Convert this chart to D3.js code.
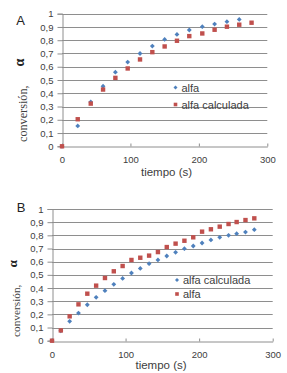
<!DOCTYPE html>
<html>
<head>
<meta charset="utf-8">
<script src="https://cdn.jsdelivr.net/npm/d3@7"></script>
<style>
  html, body { margin: 0; padding: 0; background: #fff; }
  svg { display: block; }
</style>
</head>
<body>
<div id="chart"></div>
<script>
// Panel A data
const timeA = [0, 23, 42, 60, 78, 96, 114, 132, 150, 168, 186, 205, 223, 241, 259, 277];
const alfaA = [0, 0.154, 0.335, 0.453, 0.559, 0.635, 0.700, 0.756, 0.806, 0.844, 0.877, 0.902, 0.922, 0.940, 0.957];
const alfaCalcA = [0, 0.204, 0.322, 0.428, 0.516, 0.587, 0.655, 0.710, 0.753, 0.796, 0.831, 0.851, 0.879, 0.902, 0.917, 0.932];

// Panel B data
const timeB = [0, 12, 24, 36, 48, 60, 72, 84, 96, 108, 120, 132, 144, 156, 168, 180, 192, 204, 216, 228, 240, 251, 263, 275];
const alfaCalcB = [0, 0.075, 0.147, 0.210, 0.273, 0.329, 0.380, 0.428, 0.473, 0.514, 0.549, 0.585, 0.613, 0.643, 0.671, 0.699, 0.719, 0.742, 0.765, 0.785, 0.800, 0.813, 0.825, 0.843];
const alfaB = [0, 0.078, 0.185, 0.276, 0.357, 0.418, 0.476, 0.527, 0.567, 0.613, 0.630, 0.646, 0.673, 0.711, 0.737, 0.759, 0.785, 0.828, 0.846, 0.866, 0.886, 0.901, 0.916, 0.929];

// Axis ticks
const xTicks = [0, 100, 200, 300];
const yTicks = [0, 0.1, 0.2, 0.3, 0.4, 0.5, 0.6, 0.7, 0.8, 0.9, 1];
const fmt = d => String(d).replace('.', ',');

const BLUE = '#4F81BD';
const RED = '#C0504D';
const GRID = '#8e8e8e';
const TEXT = '#404040';

const svg = d3.select('#chart').append('svg')
    .attr('width', 287)
    .attr('height', 373);

svg.append('rect').attr('width', 287).attr('height', 373).attr('fill', '#fff');

// small marker helpers
function diamond(sel, size) {
    return sel.attr('x', -size / 2).attr('y', -size / 2)
        .attr('width', size).attr('height', size);
}

function drawPanel(p) {
    const x = d3.scaleLinear().domain([0, 300]).range([p.left, p.right]);
    const y = d3.scaleLinear().domain([0, 1]).range([p.bottom, p.top]);
    const g = svg.append('g');

    // Gridlines
    g.append('g').selectAll('line')
        .data(yTicks.filter(d => d > 0))
        .join('line')
        .attr('x1', p.left).attr('x2', p.right)
        .attr('y1', d => Math.round(y(d)) + 0.5).attr('y2', d => Math.round(y(d)) + 0.5)
        .attr('stroke', GRID).attr('stroke-width', 1);

    // Y axis
    const yAxis = g.append('g')
        .attr('transform', `translate(${Math.round(p.left) + 0.5},0)`)
        .call(d3.axisLeft(y).tickValues(yTicks).tickFormat(fmt).tickSize(5).tickPadding(4));
    yAxis.select('.domain').attr('stroke', GRID);
    yAxis.selectAll('.tick line').attr('stroke', GRID);
    yAxis.selectAll('text')
        .attr('fill', TEXT)
        .style('font-family', '"Liberation Sans", Arial, sans-serif')
        .style('font-size', '9.5px');

    // X axis (ticks pointing inward)
    const xAxis = g.append('g')
        .attr('transform', `translate(0,${Math.round(p.bottom) + 0.5})`)
        .call(d3.axisBottom(x).tickValues(xTicks).tickSize(-3).tickPadding(10).tickSizeOuter(0));
    xAxis.select('.domain').attr('stroke', GRID);
    xAxis.selectAll('.tick line').attr('stroke', GRID);
    xAxis.selectAll('text')
        .attr('fill', TEXT)
        .style('font-family', '"Liberation Sans", Arial, sans-serif')
        .style('font-size', '9.5px');

    // Series
    p.series.forEach(s => {
        const pts = s.values.map((v, i) => [p.time[i], v]);
        const marks = g.append('g').selectAll('rect')
            .data(pts)
            .join('rect')
            .attr('fill', s.color);
        if (s.shape === 'diamond') {
            diamond(marks, 3.4)
                .attr('transform', d => `translate(${x(d[0])},${y(d[1])}) rotate(45)`);
        } else {
            marks.attr('x', d => x(d[0]) - 2.2)
                .attr('y', d => y(d[1]) - 2.2)
                .attr('width', 4.4).attr('height', 4.4);
        }
    });

    // Legend
    p.series.forEach((s, i) => {
        const ly = p.legendY + i * p.legendGap;
        const m = g.append('rect').attr('fill', s.color);
        if (s.shape === 'diamond') {
            diamond(m, 2.8).attr('transform', `translate(${p.legendX},${ly}) rotate(45)`);
        } else {
            m.attr('x', p.legendX - 1.8).attr('y', ly - 1.8)
                .attr('width', 3.6).attr('height', 3.6);
        }
        g.append('text')
            .attr('x', p.legendX + 6)
            .attr('y', ly + 4)
            .attr('fill', TEXT)
            .style('font-family', '"Liberation Sans", Arial, sans-serif')
            .style('font-size', '11px')
            .text(s.name);
    });

    // X title
    g.append('text')
        .attr('x', p.xTitleX)
        .attr('y', p.xTitleY)
        .attr('text-anchor', 'middle')
        .attr('fill', TEXT)
        .style('font-family', '"Liberation Sans", Arial, sans-serif')
        .style('font-size', '11.5px')
        .text('tiempo (s)');

    // Y title
    const yt = g.append('text')
        .attr('transform', `translate(${p.yTitleX},${p.yTitleY}) rotate(-90)`)
        .attr('fill', TEXT)
        .style('font-family', '"Liberation Serif", "Times New Roman", serif')
        .style('font-size', p.yTitleSize + 'px');
    yt.append('tspan').text('conversión,');
    yt.append('tspan')
        .attr('dx', p.alphaGap)
        .attr('dy', -3)
        .attr('fill', '#222')
        .style('font-weight', 'bold')
        .style('font-size', (p.yTitleSize + 2) + 'px')
        .text('α');

    // Panel letter
    g.append('text')
        .attr('x', p.letterX)
        .attr('y', p.letterY)
        .attr('text-anchor', 'middle')
        .attr('fill', '#222')
        .style('font-family', '"Liberation Sans", Arial, sans-serif')
        .style('font-size', '13px')
        .text(p.letter);
}

drawPanel({
    letter: 'A', letterX: 20.5, letterY: 25,
    left: 62, right: 267.3, top: 13.7, bottom: 146.3,
    time: timeA,
    series: [
        { name: 'alfa', values: alfaA, color: BLUE, shape: 'diamond' },
        { name: 'alfa calculada', values: alfaCalcA, color: RED, shape: 'square' }
    ],
    legendX: 175.5, legendY: 87.5, legendGap: 17,
    xTitleX: 166.5, xTitleY: 176,
    yTitleX: 27, yTitleY: 142, yTitleSize: 12.2, alphaGap: 19
});

drawPanel({
    letter: 'B', letterX: 21, letterY: 212,
    left: 52, right: 272.7, top: 209, bottom: 340.7,
    time: timeB,
    series: [
        { name: 'alfa calculada', values: alfaCalcB, color: BLUE, shape: 'diamond' },
        { name: 'alfa', values: alfaB, color: RED, shape: 'square' }
    ],
    legendX: 177, legendY: 280, legendGap: 14,
    xTitleX: 161, xTitleY: 369,
    yTitleX: 20, yTitleY: 337, yTitleSize: 11.3, alphaGap: 17
});
</script>
</body>
</html>
